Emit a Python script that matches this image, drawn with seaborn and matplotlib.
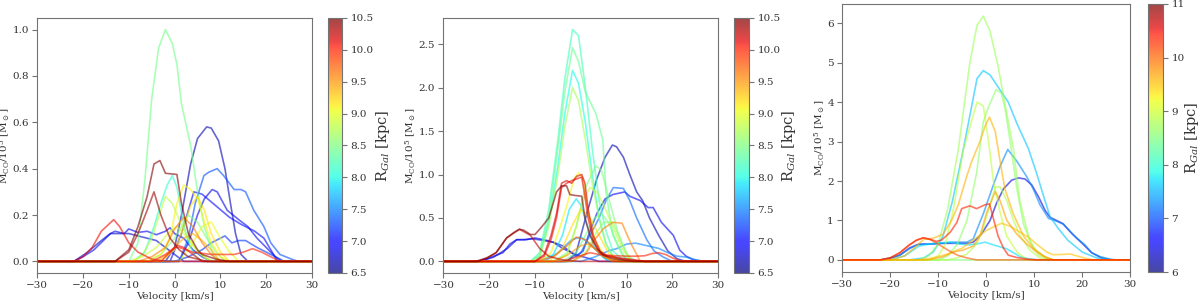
import numpy as np
import pandas as pd
import matplotlib
matplotlib.use("Agg")
import matplotlib.pyplot as plt
import seaborn as sns

# ---- panel 1 ----
r_gal_1 = [8.45, 10.5, 10.1, 6.9, 6.75, 6.7, 7.3, 7.0, 6.9, 7.2, 8.1, 9.1, 8.8, 9.2, 9.6,
           10.0, 8.5, 8.9, 9.4, 9.0, 10.4, 10.1]
vel_1 = [
    [-30, -10, -8, -6.5, -5, -3.5, -2, -0.5, 0.5, 1.5, 3.5, 5, 6.5, 8.5, 10, 30],
    [-30, -13, -10, -8, -6, -4.5, -3.2, -2, 0.5, 1.5, 3, 5, 6, 9, 12, 30],
    [-30, -22, -20, -18, -16, -13.3, -12, -10, -8, -5, -2, 30],
    [-30, -22, -20, -17.6, -14, -13, -11, -10, -8, -6, -4, -2, -1, 0, 2, 4, 6, 8, 30],
    [-30, -22, -19, -16, -14, -12, -10, -8, -6, -4, -2, 0, 2, 30],
    [-30, -2, 0, 1.5, 3.5, 5, 7, 8, 9.6, 11, 12.2, 13.3, 14.5, 16, 30],
    [-30, 1, 3, 4.5, 6.4, 7.5, 9.3, 10.7, 13, 14.5, 15.5, 17.3, 19.5, 21, 23, 25.5, 27, 30],
    [-30, -1, 1.5, 4.2, 6, 9, 12, 14.5, 17.5, 19.5, 21, 22.5, 30],
    [-30, 1, 3, 5, 6.5, 8.2, 9.3, 11.5, 14, 16, 18, 20, 22, 23.5, 30],
    [-30, 0, 3, 6, 8, 10, 11, 12.5, 14, 15.5, 18, 20, 22, 24, 30],
    [-30, -9, -6.5, -4.5, -3, -1.6, -0.5, 0.5, 1.6, 2.7, 4.2, 6, 30],
    [-30, -6, -3, -1, 0.5, 2, 3.5, 5, 6.5, 8, 10, 12, 30],
    [-30, -9, -7, -5, -3, -2, -0.5, 1, 3, 5, 7, 9, 30],
    [-30, -3, 0, 2, 3.5, 5, 6.5, 8, 10, 12, 30],
    [-30, -8, -5, -2, 0, 2, 4, 6, 8, 10, 30],
    [-30, -5, -2, 0, 1, 2.5, 4, 6, 8, 10, 13, 15, 17, 19, 21, 23, 30],
    [-30, -6, -3, 0, 3, 5, 7, 9, 11, 30],
    [-30, -10, -7, -4, -1, 0.5, 2, 4, 6, 8, 30],
    [-30, -4, -1, 2, 4, 6, 8, 10, 30],
    [-30, 1, 4, 6, 8, 10, 12, 14, 30],
    [-30, -13, -10, -8, -6, -4.5, -3, -1, 1, 3, 5, 7, 30],
    [-30, -3, -1, 0.5, 2, 4, 6, 30],
]
mco_1 = [
    [0, 0, 0.08, 0.35, 0.7, 0.92, 1.0, 0.94, 0.85, 0.68, 0.5, 0.3, 0.15, 0.02, 0, 0],
    [0, 0, 0.05, 0.15, 0.28, 0.42, 0.435, 0.38, 0.375, 0.25, 0.12, 0.05, 0.03, 0.01, 0, 0],
    [0, 0, 0.02, 0.06, 0.13, 0.18, 0.15, 0.08, 0.04, 0.01, 0, 0],
    [0, 0, 0.02, 0.05, 0.12, 0.13, 0.12, 0.14, 0.125, 0.13, 0.115, 0.13, 0.145, 0.12, 0.1, 0.05, 0.02, 0, 0],
    [0, 0, 0.04, 0.09, 0.12, 0.12, 0.12, 0.11, 0.1, 0.09, 0.06, 0.03, 0, 0],
    [0, 0, 0.06, 0.2, 0.42, 0.53, 0.58, 0.575, 0.52, 0.4, 0.25, 0.12, 0.03, 0, 0],
    [0, 0, 0.1, 0.25, 0.37, 0.385, 0.4, 0.37, 0.31, 0.31, 0.3, 0.22, 0.15, 0.08, 0.03, 0.01, 0, 0],
    [0, 0, 0.12, 0.3, 0.29, 0.24, 0.19, 0.16, 0.13, 0.1, 0.05, 0, 0],
    [0, 0, 0.08, 0.2, 0.27, 0.31, 0.3, 0.22, 0.18, 0.15, 0.1, 0.06, 0.02, 0, 0],
    [0, 0, 0.02, 0.05, 0.08, 0.1, 0.11, 0.08, 0.09, 0.09, 0.06, 0.04, 0.02, 0, 0],
    [0, 0, 0.04, 0.15, 0.25, 0.33, 0.37, 0.32, 0.2, 0.1, 0.03, 0, 0],
    [0, 0, 0.03, 0.1, 0.25, 0.33, 0.31, 0.27, 0.17, 0.08, 0.02, 0, 0],
    [0, 0, 0.03, 0.1, 0.22, 0.28, 0.25, 0.18, 0.1, 0.04, 0.01, 0, 0],
    [0, 0, 0.05, 0.15, 0.24, 0.28, 0.22, 0.12, 0.04, 0, 0],
    [0, 0, 0.02, 0.06, 0.14, 0.19, 0.15, 0.08, 0.03, 0, 0],
    [0, 0, 0.03, 0.06, 0.06, 0.05, 0.04, 0.035, 0.03, 0.03, 0.03, 0.04, 0.055, 0.04, 0.02, 0, 0],
    [0, 0, 0.03, 0.1, 0.2, 0.17, 0.1, 0.04, 0, 0],
    [0, 0, 0.02, 0.06, 0.13, 0.15, 0.12, 0.07, 0.03, 0, 0],
    [0, 0, 0.04, 0.1, 0.12, 0.09, 0.05, 0, 0],
    [0, 0, 0.08, 0.15, 0.17, 0.1, 0.04, 0, 0],
    [0, 0, 0.04, 0.12, 0.22, 0.3, 0.2, 0.1, 0.05, 0.02, 0.01, 0, 0],
    [0, 0, 0.04, 0.07, 0.06, 0.03, 0, 0],
]

# ---- panel 2 ----
r_gal_2 = [8.2, 8.4, 8.0, 8.7, 6.7, 6.9, 6.8, 7.4, 7.5, 10.5, 10.2, 10.1, 10.25, 10.0,
           9.1, 8.5, 8.8, 7.9, 8.45, 9.6, 9.7, 9.5, 9.2, 8.6, 7.6]
vel_2 = [
    [-30, -11, -9, -7, -5, -3.5, -1.8, -0.5, 1, 2.5, 4, 5.5, 7, 9, 11, 30],
    [-30, -11, -9, -7, -5, -3.5, -1.8, -0.5, 1, 3.3, 4.8, 5.5, 7, 9, 11, 30],
    [-30, -11, -9, -7, -5, -3.5, -1.8, -0.5, 1, 2.5, 4, 5.5, 7, 9, 11, 30],
    [-30, -11, -9, -7, -5, -3.5, -1.8, -0.5, 1, 2.5, 4, 5.5, 7, 9, 11, 30],
    [-30, -3, -1, 1.3, 3.5, 5.3, 6.9, 7.8, 9.3, 10.7, 12.2, 13.5, 15, 17, 19, 21, 23, 30],
    [-30, -22.5, -20.5, -18.5, -17, -15.5, -14, -12.5, -10.5, -8, -6, -4, -2.5, -1, 0.5, 2, 3.5,
     5.3, 7, 9.6, 10.7, 13, 14.7, 15.8, 17.6, 20.2, 21.6, 23, 24.5, 26.5, 30],
    [-30, -22, -19, -16, -14, -12, -10, -8, -6, -4, -2, 0, 2, 4, 30],
    [-30, -3, 0, 2, 4, 5.5, 7.1, 9.3, 10.7, 12.2, 14.4, 16, 18, 20, 30],
    [-30, 0, 3, 6, 8, 10, 12, 14.5, 17, 19, 21, 23, 25, 27, 30],
    [-30, -22.5, -20.5, -18.5, -16.2, -14.7, -13.4, -12.5, -11, -10, -8.5, -7, -5.3, -4.2, -3.1,
     -2.4, -1.3, 0.2, 0.9, 2, 3.5, 5, 7, 11.5, 30],
    [-30, -10, -8, -6.5, -5.3, -4.2, -3.1, -2, -0.9, 0.2, 0.9, 1.6, 2.7, 4.2, 5.6, 8.5, 11.5, 14, 30],
    [-30, -10, -8, -6.5, -5.3, -4.2, -3.1, -2, -0.9, 0.2, 0.9, 1.6, 2.7, 4.2, 5.6, 8.5, 11.5, 14, 30],
    [-30, -23, -20.5, -18.5, -16.2, -13.4, -11, -9, -7, -5, -3, 0, 30],
    [-30, -4, -1, 2, 4, 6, 8, 10, 12, 14, 15.5, 17, 18.5, 20, 22, 30],
    [-30, -9, -6.5, -4.5, -3, -1.5, -0.5, 0.5, 1.5, 3, 5, 7, 30],
    [-30, -6, -3, -1, 1, 3.3, 4.5, 6, 8, 10, 12, 30],
    [-30, -6, -3, -1, 0.5, 2, 3.5, 5, 7, 9, 11, 30],
    [-30, -9, -6, -4, -2.5, -1, 0, 1.5, 3, 5, 7, 30],
    [-30, -4, -1, 1, 3, 4.5, 6, 8, 10, 30],
    [-30, -2, 1, 3, 5, 7, 9, 11, 13, 30],
    [-30, -10, -6, -3, -1, 1, 3, 5, 8, 30],
    [-30, -6, -3, 0, 1.5, 3, 5, 7, 30],
    [-30, -7, -4, -2, 0, 2, 4, 6, 8, 30],
    [-30, -2, 1, 3, 5, 7, 9, 11, 30],
    [-30, -8, -5, -2, 0, 2, 4, 6, 30],
]
mco_2 = [
    [0, 0, 0.1, 0.6, 1.4, 2.1, 2.67, 2.6, 2.0, 1.3, 0.7, 0.35, 0.12, 0.03, 0, 0],
    [0, 0, 0.08, 0.5, 1.3, 1.95, 2.46, 2.3, 1.95, 1.7, 1.4, 0.8, 0.3, 0.08, 0, 0],
    [0, 0, 0.06, 0.45, 1.1, 1.7, 2.2, 2.05, 1.6, 1.0, 0.5, 0.2, 0.06, 0.01, 0, 0],
    [0, 0, 0.05, 0.4, 1.0, 1.55, 2.0, 1.85, 1.4, 0.9, 0.5, 0.2, 0.06, 0.01, 0, 0],
    [0, 0, 0.1, 0.55, 0.95, 1.2, 1.34, 1.32, 1.2, 1.0, 0.8, 0.7, 0.5, 0.3, 0.12, 0.03, 0, 0],
    [0, 0, 0.03, 0.07, 0.1, 0.2, 0.25, 0.25, 0.26, 0.24, 0.22, 0.18, 0.12, 0.06, 0.12, 0.35, 0.55,
     0.72, 0.77, 0.8, 0.75, 0.7, 0.62, 0.62, 0.45, 0.3, 0.13, 0.06, 0.02, 0, 0],
    [0, 0, 0.05, 0.15, 0.25, 0.25, 0.27, 0.25, 0.22, 0.15, 0.1, 0.06, 0.03, 0, 0],
    [0, 0, 0.1, 0.3, 0.5, 0.7, 0.85, 0.84, 0.7, 0.5, 0.25, 0.12, 0.05, 0, 0],
    [0, 0, 0.05, 0.12, 0.15, 0.2, 0.21, 0.18, 0.15, 0.1, 0.06, 0.05, 0.02, 0, 0],
    [0, 0, 0.04, 0.1, 0.27, 0.33, 0.37, 0.36, 0.31, 0.31, 0.4, 0.5, 0.8, 0.87, 0.87, 0.77, 0.76,
     0.75, 0.5, 0.3, 0.15, 0.07, 0.03, 0, 0],
    [0, 0, 0.08, 0.3, 0.55, 0.9, 0.93, 0.9, 0.98, 1.0, 0.9, 0.6, 0.3, 0.12, 0.07, 0.04, 0.02, 0, 0],
    [0, 0, 0.06, 0.25, 0.5, 0.85, 0.9, 0.93, 0.95, 0.97, 0.75, 0.5, 0.25, 0.1, 0.06, 0.03, 0.01, 0, 0],
    [0, 0, 0.04, 0.1, 0.27, 0.37, 0.3, 0.15, 0.06, 0.03, 0.01, 0, 0],
    [0, 0, 0.05, 0.1, 0.08, 0.07, 0.065, 0.06, 0.06, 0.065, 0.09, 0.1, 0.08, 0.04, 0, 0],
    [0, 0, 0.1, 0.4, 0.65, 0.95, 1.02, 0.95, 0.6, 0.25, 0.08, 0, 0],
    [0, 0, 0.1, 0.4, 0.85, 1.1, 1.05, 0.75, 0.35, 0.08, 0, 0],
    [0, 0, 0.08, 0.4, 0.7, 0.85, 0.8, 0.65, 0.4, 0.15, 0, 0],
    [0, 0, 0.08, 0.3, 0.6, 0.72, 0.65, 0.4, 0.15, 0.04, 0, 0],
    [0, 0, 0.1, 0.3, 0.5, 0.55, 0.45, 0.2, 0, 0],
    [0, 0, 0.08, 0.25, 0.38, 0.45, 0.44, 0.2, 0, 0],
    [0, 0, 0.05, 0.18, 0.28, 0.25, 0.15, 0.05, 0, 0],
    [0, 0, 0.07, 0.18, 0.2, 0.15, 0.06, 0, 0],
    [0, 0, 0.15, 0.4, 0.6, 0.5, 0.3, 0.1, 0, 0],
    [0, 0, 0.1, 0.3, 0.45, 0.45, 0.2, 0, 0],
    [0, 0, 0.1, 0.25, 0.28, 0.2, 0.1, 0, 0],
]

# ---- panel 3 ----
r_gal_3 = [8.7, 7.6, 7.3, 8.6, 8.9, 9.6, 9.7, 9.5, 10.4, 10.1, 6.4, 7.7, 8.8, 8.5]
vel_3 = [
    [-30, -14, -12, -10, -8, -5.8, -3.4, -1.9, -0.6, 0.8, 2.5, 4, 5.7, 7, 9, 11, 13, 30],
    [-30, -16, -13, -11, -9, -7, -4.8, -1.9, -0.6, 0.8, 4.6, 6.4, 8.8, 10.5, 12, 13.3, 15, 17, 20,
     23, 26, 30],
    [-30, -22, -20, -18, -16, -14.5, -13, -11, -9, -7, -5.5, -4, -2.7, -0.5, 1.5, 3, 4.5, 6.4, 8.5,
     9.8, 11.2, 13, 14.7, 16.1, 17.5, 18.9, 20.6, 22, 23.8, 25.8, 27, 30],
    [-30, -10, -8, -6, -4, -2, -0.6, 0.5, 2.1, 3.2, 4, 5, 6.4, 7.8, 9.8, 12.6, 14, 30],
    [-30, -12, -10, -8.5, -6.8, -4.8, -1.9, -0.6, 0.5, 1.5, 2.9, 4.3, 6.4, 8.5, 30],
    [-30, -20, -17, -15, -13, -11, -9, -7.2, -5.8, -4.1, -3, -1.3, -0.2, 0.7, 1.9, 2.9, 3.9, 5.7,
     7.8, 9.8, 11.9, 14, 30],
    [-30, -12, -9, -6.8, -4.8, -2.7, -1.3, 0.1, 1.9, 2.9, 4.3, 6.4, 8.5, 10.5, 12.6, 14, 30],
    [-30, -14, -11, -8, -5, -2.7, 0.1, 1.8, 3.2, 5, 7.1, 9.1, 10.5, 12.6, 14, 16.1, 17.5, 18.9, 21,
     22.4, 30],
    [-30, -22, -20, -18, -16, -14.5, -13.1, -11.7, -10.3, -9.3, -7.5, -6.1, -5.1, -3.4, -2, -0.2,
     0.7, 1.5, 2.5, 3.6, 4.6, 6.4, 8.5, 10.5, 30],
    [-30, -22, -20, -18, -16, -14.5, -13.1, -11.7, -10, -8, -6, -4, -2, 30],
    [-30, -22, -20, -18, -16, -14, -12, -10, -8, -6, -4, -2.7, -1, 0.8, 2.2, 3.6, 5.3, 6.7, 8.1,
     9.5, 10.9, 12.3, 13.3, 16, 18, 20, 22, 24, 26, 30],
    [-30, -20, -17, -14, -11, -7.5, -5.5, -3.4, -1.3, -0.2, 1.5, 2.9, 4.3, 5.7, 7.1, 9.1, 11, 30],
    [-30, -8, -6, -4, -2, -0.6, 0.8, 1.9, 2.9, 4.3, 5.7, 7.1, 9.1, 11.2, 13, 30],
    [-30, 30],
]
mco_3 = [
    [0, 0, 0.1, 0.4, 1.3, 2.8, 5.0, 5.95, 6.18, 5.8, 4.9, 3.9, 2.8, 1.5, 0.5, 0.12, 0, 0],
    [0, 0, 0.05, 0.2, 0.6, 1.5, 2.78, 4.6, 4.8, 4.69, 4.0, 3.46, 2.82, 2.2, 1.6, 1.1, 0.8, 0.5, 0.2,
     0.05, 0, 0],
    [0, 0, 0.05, 0.12, 0.28, 0.38, 0.4, 0.4, 0.42, 0.45, 0.45, 0.45, 0.53, 1.2, 1.9, 2.4, 2.8, 2.5,
     2.1, 1.8, 1.4, 1.05, 0.98, 0.9, 0.72, 0.55, 0.38, 0.18, 0.08, 0.02, 0, 0],
    [0, 0, 0.1, 0.4, 1.0, 2.2, 3.5, 3.88, 4.32, 4.22, 3.8, 3.0, 1.8, 0.9, 0.3, 0.05, 0, 0],
    [0, 0, 0.1, 0.4, 1.3, 2.78, 4.0, 3.9, 3.0, 2.0, 1.2, 0.6, 0.2, 0, 0],
    [0, 0, 0.1, 0.3, 0.52, 0.55, 0.65, 1.0, 1.4, 2.1, 2.5, 3.0, 3.4, 3.62, 3.25, 2.5, 1.8, 1.15,
     0.6, 0.3, 0.1, 0, 0],
    [0, 0, 0.08, 0.2, 0.25, 0.35, 0.6, 1.2, 1.73, 1.5, 1.0, 0.65, 0.4, 0.2, 0.05, 0, 0],
    [0, 0, 0.05, 0.15, 0.3, 0.5, 0.75, 0.85, 0.93, 0.85, 0.7, 0.55, 0.4, 0.2, 0.13, 0.14, 0.15,
     0.1, 0.03, 0, 0],
    [0, 0, 0.05, 0.18, 0.38, 0.5, 0.56, 0.52, 0.47, 0.5, 0.7, 0.95, 1.3, 1.37, 1.3, 1.4, 1.42,
     1.05, 0.6, 0.3, 0.12, 0.06, 0.02, 0, 0],
    [0, 0, 0.05, 0.18, 0.38, 0.5, 0.56, 0.52, 0.4, 0.25, 0.12, 0.05, 0, 0],
    [0, 0, 0.04, 0.12, 0.3, 0.4, 0.4, 0.42, 0.42, 0.42, 0.42, 0.45, 0.65, 1.0, 1.45, 1.8, 2.02,
     2.08, 2.05, 1.9, 1.6, 1.25, 1.08, 0.92, 0.65, 0.42, 0.18, 0.05, 0, 0],
    [0, 0, 0.1, 0.35, 0.42, 0.45, 0.4, 0.38, 0.42, 0.45, 0.38, 0.33, 0.28, 0.18, 0.08, 0.02, 0, 0],
    [0, 0, 0.05, 0.15, 0.4, 0.8, 1.4, 1.85, 1.85, 1.5, 1.0, 0.6, 0.25, 0.05, 0, 0],
    [0, 0],
]

cbar_ranges = [(6.5, 10.5), (6.5, 10.5), (6, 11)]
cbar_ticks = [[6.5, 7.0, 7.5, 8.0, 8.5, 9.0, 9.5, 10.0, 10.5],
              [6.5, 7.0, 7.5, 8.0, 8.5, 9.0, 9.5, 10.0, 10.5],
              [6, 7, 8, 9, 10, 11]]
y_ticks = [[0.0, 0.2, 0.4, 0.6, 0.8, 1.0],
           [0.0, 0.5, 1.0, 1.5, 2.0, 2.5],
           [0, 1, 2, 3, 4, 5, 6]]


def to_frame(r_gal, vel, mco):
    rows = []
    for i, (r, v, m) in enumerate(zip(r_gal, vel, mco)):
        for vv, mm in zip(v, m):
            rows.append({"cloud": i, "R": r, "v": vv, "m": mm})
    return pd.DataFrame(rows)


sns.set_style("ticks")
plt.rcParams["font.family"] = ["DejaVu Serif"]
plt.rcParams["mathtext.fontset"] = "dejavuserif"
plt.rcParams["axes.edgecolor"] = "0.45"
plt.rcParams["xtick.color"] = "0.45"
plt.rcParams["ytick.color"] = "0.45"
plt.rcParams["xtick.labelcolor"] = "0.2"
plt.rcParams["ytick.labelcolor"] = "0.2"

jet = matplotlib.colormaps["jet"]

fig = plt.figure(figsize=(12, 3.04), dpi=100)

ax_boxes = [[0.031, 0.102, 0.229, 0.839],
            [0.3695, 0.102, 0.229, 0.839],
            [0.7018, 0.105, 0.240, 0.882]]
cax_boxes = [[0.2735, 0.102, 0.0117, 0.839],
             [0.6117, 0.102, 0.0125, 0.839],
             [0.9567, 0.105, 0.0125, 0.882]]
cbar_pads = [0, 0, -1.5]

panels = [(r_gal_1, vel_1, mco_1), (r_gal_2, vel_2, mco_2), (r_gal_3, vel_3, mco_3)]

for k, (r_gal, vel, mco) in enumerate(panels):
    df = to_frame(r_gal, vel, mco)
    ax = fig.add_axes(ax_boxes[k])
    lo, hi = cbar_ranges[k]
    sns.lineplot(data=df, x="v", y="m", hue="R", units="cloud", estimator=None,
                 palette=jet, hue_norm=(lo, hi), legend=False, alpha=0.6,
                 linewidth=1.2, sort=False, ax=ax)
    ax.set_xlim(-30, 30)
    ax.set_xticks([-30, -20, -10, 0, 10, 20, 30])
    ax.set_yticks(y_ticks[k])
    if k < 2:
        ax.yaxis.set_major_formatter(matplotlib.ticker.FormatStrFormatter("%.1f"))
    ax.tick_params(labelsize=7.5, length=3.5, pad=2.5)
    ax.set_xlabel("Velocity [km/s]", fontsize=7.5, color="0.2", labelpad=1)
    ax.set_ylabel(r"M$_{\rm CO}$/10$^5$ [M$_\odot$]", fontsize=7.5, color="0.2", labelpad=0.5)

    cax = fig.add_axes(cax_boxes[k])
    sm = matplotlib.cm.ScalarMappable(norm=matplotlib.colors.Normalize(lo, hi), cmap=jet)
    cb = fig.colorbar(sm, cax=cax, alpha=0.72)
    cb.set_ticks(cbar_ticks[k])
    if k < 2:
        cb.ax.yaxis.set_major_formatter(matplotlib.ticker.FormatStrFormatter("%.1f"))
    cb.ax.tick_params(labelsize=7.5, length=3.5, pad=2.5)
    cb.outline.set_edgecolor("0.45")
    cb.set_label(r"R$_{Gal}$ [kpc]", fontsize=10.5, color="0.2", labelpad=cbar_pads[k])

fig.savefig("out.png", dpi=100)
